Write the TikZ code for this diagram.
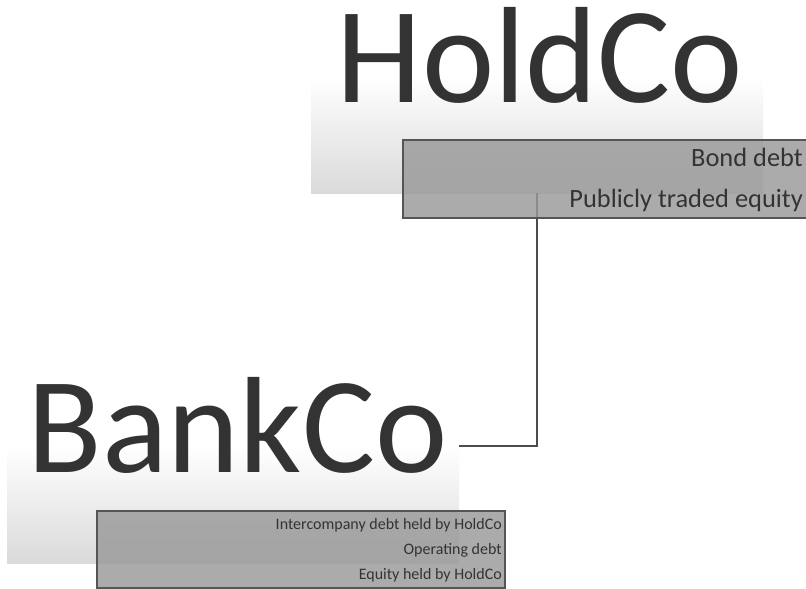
\documentclass[tikz,border=0pt]{standalone}
\usepackage{fontspec}
\setmainfont{Carlito}
\definecolor{txt}{HTML}{333333}
\definecolor{bgbot}{HTML}{DADADA}
\definecolor{boxfill}{HTML}{999999}
\definecolor{boxline}{HTML}{555555}
\definecolor{conn}{HTML}{4D4D4D}
\begin{document}
\begin{tikzpicture}[x=1pt,y=-1pt,
  bgframe/.style={draw=none,inner sep=0pt,outer sep=0pt,minimum width=452pt,minimum height=234pt},
  bgshade/.style={top color=white,bottom color=bgbot,draw=none},
  listbox/.style={draw=boxline,line width=1.4pt,fill=boxfill,fill opacity=0.82,inner sep=0pt,outer sep=0pt},
  bigname/.style={inner sep=0pt,anchor=base,text=txt,font=\fontsize{137}{140}\selectfont},
  bigitem/.style={inner sep=0pt,anchor=base east,text=txt,font=\fontsize{26.4}{30}\selectfont},
  smallitem/.style={inner sep=0pt,anchor=base east,text=txt,font=\fontsize{16}{19}\selectfont},
  connector/.style={draw=conn,line width=1.2pt}]
\useasboundingbox (0,0) rectangle (806,589);
% background frames (for anchoring) and their shading
\node[bgframe] (hbg) at (537,76) {};
\node[bgframe] (bbg) at (233,446) {};
\shade[bgshade] (hbg.west) rectangle (hbg.south east);
\shade[bgshade] (bbg.west) rectangle (bbg.south east);
% names
\node[bigname] (hname) at (540,102) {HoldCo};
\node[bigname] (bname) at (237.5,472) {BankCo};
% connector
\draw[connector] (hbg.south) |- (bbg.east);
% boxes
\node[listbox,minimum width=406pt,minimum height=78pt] (hbox) at (606,179) {};
\node[listbox,minimum width=408pt,minimum height=77pt] (bbox) at (301,549.5) {};
% items
\node[bigitem] (h1) at (803,166) {Bond debt};
\node[bigitem] (h2) at (803,207) {Publicly traded equity};
\node[smallitem] (b1) at (502,529) {Intercompany debt held by HoldCo};
\node[smallitem] (b2) at (502,554) {Operating debt};
\node[smallitem] (b3) at (502,579) {Equity held by HoldCo};
\end{tikzpicture}
\end{document}
